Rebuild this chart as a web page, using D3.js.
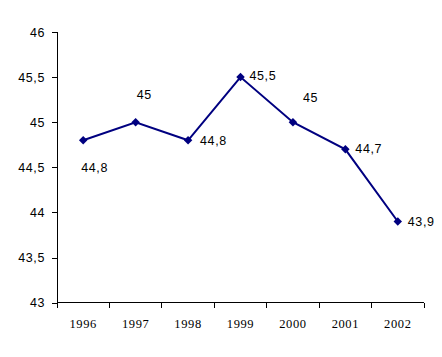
<!DOCTYPE html>
<html><head><meta charset="utf-8">
<script src="https://cdn.jsdelivr.net/npm/d3@7"></script>
<style>body{margin:0;background:#fff}svg{display:block}</style>
</head><body>
<svg id="c" width="442" height="357"></svg>
<script>
const years = ["1996","1997","1998","1999","2000","2001","2002"];
const values = [44.8, 45, 44.8, 45.5, 45, 44.7, 43.9];
const yTicks = [43, 43.5, 44, 44.5, 45, 45.5, 46];

(function(){
const svg = d3.select("#c");
const mLeft = 57, mRight = 424, mTop = 32, mBottom = 302.7;
const x = d3.scaleBand().domain(years).range([mLeft, mRight]);
const y = d3.scaleLinear().domain([43, 46]).range([mBottom, mTop]);
const fmt = v => String(v).replace(".", ",");

// y axis
const ya = svg.append("g").attr("transform", `translate(${mLeft},0)`)
  .call(d3.axisLeft(y).tickValues(yTicks).tickSize(5).tickPadding(7).tickFormat(fmt));
ya.selectAll("path,line").attr("stroke", "#000").attr("shape-rendering", "crispEdges");
ya.select(".domain").attr("d", `M0,${mTop}V${mBottom}`);
ya.selectAll("text").attr("font-family", "Liberation Sans, Arial, sans-serif")
  .attr("font-size", 12.5).attr("fill", "#000").attr("letter-spacing", "0.6px");

// x axis
const xa = svg.append("g").attr("transform", `translate(0,${mBottom})`)
  .call(d3.axisBottom(x).tickSize(0).tickPadding(16));
xa.select(".domain").attr("d", `M${mLeft},0H${mRight}`).attr("stroke", "#000").attr("shape-rendering", "crispEdges");
const edges = years.map(d => x(d)).concat([mRight]);
xa.selectAll(".edge").data(edges).enter().append("line").attr("class", "edge")
  .attr("x1", d => d).attr("x2", d => d).attr("y1", 0).attr("y2", 5)
  .attr("stroke", "#000").attr("shape-rendering", "crispEdges");
xa.selectAll("text").attr("font-family", "Liberation Serif, Times New Roman, serif")
  .attr("font-size", 12.5).attr("fill", "#000").attr("letter-spacing", "0.6px");

const cx = d => x(d) + x.bandwidth() / 2;
const pts = years.map((yr, i) => ({yr, v: values[i]}));

svg.append("path").datum(pts)
  .attr("d", d3.line().x(d => cx(d.yr)).y(d => y(d.v)))
  .attr("fill", "none").attr("stroke", "#000080").attr("stroke-width", 2);

svg.selectAll(".m").data(pts).enter().append("path").attr("class", "m")
  .attr("transform", d => `translate(${cx(d.yr)},${y(d.v)}) rotate(45)`)
  .attr("d", d3.symbol(d3.symbolSquare, 36))
  .attr("fill", "#000080");

// label placement (style)
const place = {
  "1996": [-2, 27], "1997": [1, -28], "1998": [12, 0],
  "1999": [9, -1], "2000": [10, -25], "2001": [10, -1], "2002": [10, 0]
};
svg.selectAll(".lbl").data(pts).enter().append("text").attr("class", "lbl")
  .attr("x", d => cx(d.yr) + place[d.yr][0])
  .attr("y", d => y(d.v) + place[d.yr][1])
  .attr("dy", "0.35em")
  .attr("font-family", "Liberation Sans, Arial, sans-serif")
  .attr("font-size", 12.5).attr("letter-spacing", "0.6px").attr("fill", "#000")
  .text(d => fmt(d.v));
})();
</script>
</body></html>
